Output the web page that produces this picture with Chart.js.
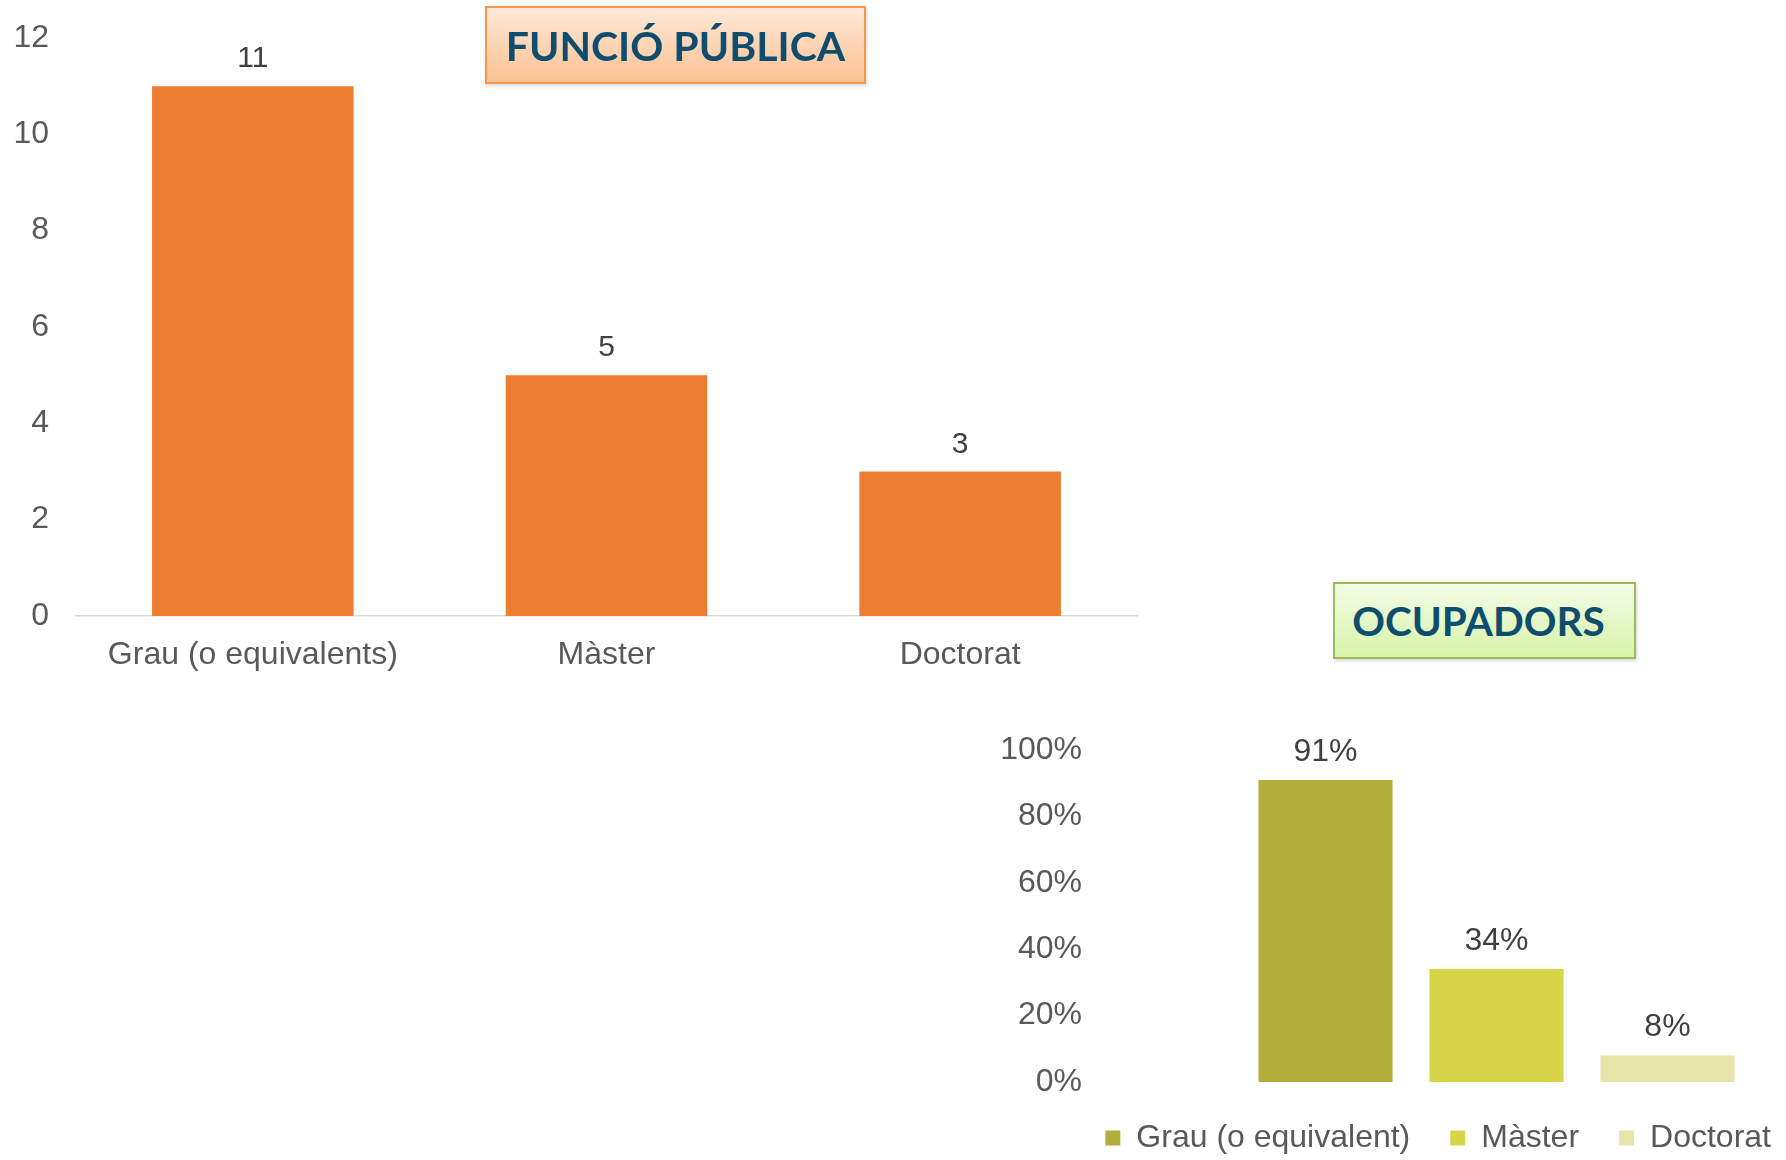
<!DOCTYPE html>
<html>
<head>
<meta charset="UTF-8">
<title>Funció pública / Ocupadors</title>
<script src="https://cdn.jsdelivr.net/npm/chart.js"></script>
<style>
    body {
        margin: 0;
        width: 1786px;
        height: 1160px;
        background: #ffffff;
        position: relative;
        overflow: hidden;
        font-family: "Liberation Sans", Arial, sans-serif;
    }
    canvas {
        position: absolute;
    }
    #public-chart {
        left: 0;
        top: 0;
    }
    #employers-chart {
        left: 960px;
        top: 694px;
    }
    .title-box {
        position: absolute;
        box-sizing: border-box;
        display: flex;
        align-items: center;
        justify-content: center;
        font-family: Lato, "Open Sans", sans-serif;
        font-weight: bold;
        color: #0f4d6f;
        box-shadow: 1px 2px 3px rgba(0, 0, 0, 0.15);
    }
    #title-public {
        left: 485px;
        top: 6px;
        width: 381px;
        height: 78px;
        font-size: 41px;
        border: 2px solid #f79646;
        background: linear-gradient(#fde8d8, #fbc293);
    }
    #title-employers {
        left: 1333px;
        top: 582px;
        width: 303px;
        height: 77px;
        font-size: 40.5px;
        padding-right: 12px;
        border: 2px solid #9bbb59;
        background: linear-gradient(#f3fbe6, #d6f5a9);
    }
</style>
</head>
<body>
<canvas id="public-chart" width="1160" height="680"></canvas>
<canvas id="employers-chart" width="851" height="470"></canvas>
<div id="title-public" class="title-box">FUNCIÓ PÚBLICA</div>
<div id="title-employers" class="title-box">OCUPADORS</div>

<script>
    // --- data ---
    const publicCategories = ['Grau (o equivalents)', 'Màster', 'Doctorat'];
    const publicValues = [11, 5, 3];
    const publicTicks = [0, 2, 4, 6, 8, 10, 12];

    const employerCategories = ['Ocupadors'];
    const employerSeries = ['Grau (o equivalent)', 'Màster', 'Doctorat'];
    const grauPct = [91];
    const masterPct = [34];
    const doctoratPct = [8];
    const percentTicks = [0, 20, 40, 60, 80, 100];

    Chart.defaults.font.family = '"Liberation Sans", Arial, sans-serif';
    Chart.defaults.color = '#595959';

    // draws the value above each bar
    const valueLabels = {
        id: 'valueLabels',
        afterDatasetsDraw(chart, args, opts) {
            const ctx = chart.ctx;
            ctx.save();
            ctx.font = opts.size + 'px "Liberation Sans", Arial, sans-serif';
            ctx.fillStyle = opts.color;
            ctx.textAlign = 'center';
            ctx.textBaseline = 'middle';
            chart.data.datasets.forEach((ds, i) => {
                chart.getDatasetMeta(i).data.forEach((bar, j) => {
                    ctx.fillText(ds.data[j] + (opts.suffix || ''), bar.x, bar.y - opts.offset);
                });
            });
            ctx.restore();
        }
    };

    // fixed axis width, and no extra vertical room taken by tick padding
    function fixWidth(w) {
        return function (scale) {
            scale.width = w;
            scale.paddingTop = 0;
            scale.paddingBottom = 0;
        };
    }

    // Chart 1: Funció pública
    new Chart(document.getElementById('public-chart'), {
        type: 'bar',
        data: {
            labels: publicCategories,
            datasets: [{
                label: 'Funció pública',
                data: publicValues,
                backgroundColor: '#ed7d31',
                categoryPercentage: 1,
                barPercentage: 0.57
            }]
        },
        options: {
            responsive: false,
            animation: false,
            layout: { padding: { top: 38, right: 23 } },
            plugins: {
                legend: { display: false },
                tooltip: { enabled: false },
                valueLabels: { size: 30, color: '#404040', offset: 27 }
            },
            scales: {
                x: {
                    grid: { display: false, drawTicks: false },
                    border: { display: true, color: '#d9d9d9', width: 1.5 },
                    ticks: { font: { size: 32 }, padding: 20, color: '#595959' },
                    afterFit(scale) { scale.height = 64; }
                },
                y: {
                    min: 0,
                    max: 12,
                    grid: { display: false, drawTicks: false },
                    border: { display: false },
                    afterBuildTicks(scale) { scale.ticks = publicTicks.map(v => ({ value: v })); },
                    ticks: { font: { size: 32 }, padding: 27, color: '#595959' },
                    afterFit: fixWidth(76)
                }
            }
        },
        plugins: [valueLabels]
    });

    // Chart 2: Ocupadors
    const employerColors = ['#b3ae3b', '#d8d447', '#e6e4a9'];
    const employerData = [grauPct, masterPct, doctoratPct];

    new Chart(document.getElementById('employers-chart'), {
        type: 'bar',
        data: {
            labels: employerCategories,
            datasets: employerSeries.map((name, i) => ({
                label: name,
                data: employerData[i],
                backgroundColor: employerColors[i],
                categoryPercentage: 0.886,
                barPercentage: 0.784
            }))
        },
        options: {
            responsive: false,
            animation: false,
            layout: { padding: { top: 56 } },
            plugins: {
                legend: {
                    position: 'bottom',
                    align: 'end',
                    labels: {
                        boxWidth: 15,
                        boxHeight: 15,
                        padding: 40,
                        color: '#595959',
                        font: { size: 32 }
                    }
                },
                tooltip: { enabled: false },
                valueLabels: { size: 32, color: '#404040', offset: 28, suffix: '%' }
            },
            scales: {
                x: { display: false },
                y: {
                    min: 0,
                    max: 100,
                    grid: { display: false, drawTicks: false },
                    border: { display: false },
                    afterBuildTicks(scale) { scale.ticks = percentTicks.map(v => ({ value: v })); },
                    ticks: {
                        font: { size: 32 },
                        padding: 125,
                        color: '#595959',
                        callback: v => v + '%'
                    },
                    afterFit: fixWidth(247)
                },
                // empty spacer on the right so the legend can sit nearer the edge
                spacer: {
                    type: 'linear',
                    position: 'right',
                    grid: { display: false, drawTicks: false },
                    border: { display: false },
                    ticks: { display: false },
                    afterFit: fixWidth(25)
                }
            }
        },
        plugins: [valueLabels]
    });
</script>
</body>
</html>
